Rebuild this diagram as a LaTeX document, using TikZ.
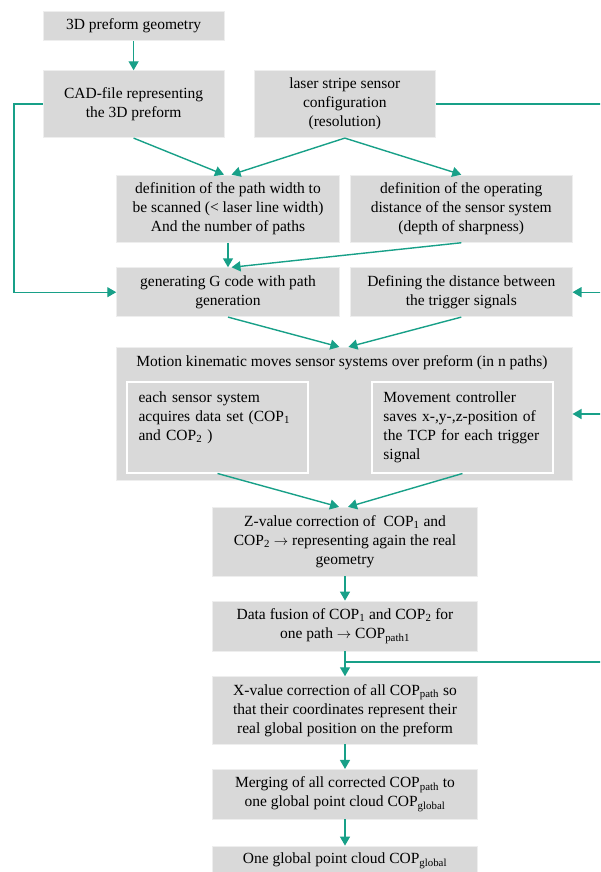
\documentclass[tikz,border=0pt]{standalone}
\usepackage{fontspec}
\setmainfont{Liberation Serif}
\usepackage{tikz}
\usetikzlibrary{arrows.meta}
\definecolor{flowgreen}{RGB}{24,160,136}
\definecolor{boxgray}{RGB}{217,217,217}

\begin{document}
\begin{tikzpicture}[x=1pt,y=-1pt,
    box/.style={fill=boxgray,draw=white!55!boxgray,line width=0.8pt,align=center,inner sep=2pt,font=\fontsize{15.5}{19}\selectfont},
    inbox/.style={fill=boxgray,draw=white,line width=1.5pt,inner xsep=11.5pt,inner ysep=8pt,text width=158pt,align=left,anchor=north west,font=\fontsize{15.5}{19}\selectfont},
    link/.style={draw=flowgreen,line width=1.4pt},
    arr/.style={link,-{Triangle[length=9pt,width=10pt]}}]
    \useasboundingbox (0,0) rectangle (600,872);
    \clip (0,0) rectangle (600,872);

    % input side
    \node[box,minimum width=180.7pt,minimum height=29.7pt] (geom) at (133.6,25.8) {3D preform geometry};
    \node[box,minimum width=180.7pt,minimum height=67pt] (cad) at (133.6,104.2) {CAD-file representing\\the 3D preform};
    \node[box,minimum width=180.6pt,minimum height=67pt] (laser) at (344.8,104.2) {laser stripe sensor\\configuration\\(resolution)};
    \node[box,minimum width=222.7pt,minimum height=67.3pt] (pathwidth) at (228,208.7) {definition of the path width to\\be scanned (< laser line width)\\And the number of paths};
    \node[box,minimum width=221.6pt,minimum height=67.3pt] (opdist) at (461.3,208.7) {definition of the operating\\distance of the sensor system\\(depth of sharpness)};
    \node[box,minimum width=222.7pt,minimum height=49pt] (gcode) at (228,292.2) {generating G code with path\\generation};
    \node[box,minimum width=221.6pt,minimum height=49pt] (trigger) at (461.3,292.2) {Defining the distance between\\the trigger signals};

    % scanning
    \node[box,minimum width=455.4pt,minimum height=133.3pt] (motion) at (344.4,414) {};
    \node[font=\fontsize{15.5}{19}\selectfont,inner sep=0pt] (motiontitle) at (342,363) {Motion kinematic moves sensor systems over preform (in n paths)};
    \node[inbox,text height=13pt,text depth=62pt] (acquire) at (126.3,381) {each sensor system\\acquires data set (COP\textsubscript{1}\\and COP\textsubscript{2} )};
    \node[inbox,text height=13pt,text depth=62pt] (controller) at (371.2,381) {Movement controller\\saves x-,y-,z-position of\\the TCP for each trigger\\signal};

    % processing
    \node[box,minimum width=265.2pt,minimum height=68.7pt] (zvalue) at (345,541.7) {Z-value correction of~ COP\textsubscript{1} and\\COP\textsubscript{2} $\rightarrow$ representing again the real\\geometry};
    \node[box,minimum width=265.2pt,minimum height=50pt] (fusion) at (345,626) {Data fusion of COP\textsubscript{1} and COP\textsubscript{2} for\\one path $\rightarrow$ COP\textsubscript{path1}};
    \node[box,minimum width=265.2pt,minimum height=67.3pt] (xvalue) at (345,710.3) {X-value correction of all COP\textsubscript{path} so\\that their coordinates represent their\\real global position on the preform};
    \node[box,minimum width=265.2pt,minimum height=49.7pt] (merge) at (345,794.2) {Merging of all corrected COP\textsubscript{path} to\\one global point cloud COP\textsubscript{global}};
    \node[box,minimum width=265.2pt,minimum height=30pt] (cloud) at (345,861) {One global point cloud COP\textsubscript{global}};

    \draw[arr] (geom) -- (cad);
    \draw[arr] (cad.south) -- ([xshift=-4pt]pathwidth.north);
    \draw[arr] (laser.south) -- ([xshift=3.5pt]pathwidth.north);
    \draw[arr] (laser.south) -- (opdist.north);
    \draw[arr] (pathwidth) -- (gcode);
    \draw[arr] (opdist.south) -- ([xshift=3.5pt]gcode.north);
    \draw[arr] (gcode.south) -- ([xshift=-5pt]motion.north);
    \draw[arr] (trigger.south) -- ([xshift=4pt]motion.north);
    \draw[arr] (acquire.south) -- ([xshift=-6pt]zvalue.north);
    \draw[arr] (controller.south) -- ([xshift=3pt]zvalue.north);
    \draw[arr] (zvalue) -- (fusion);
    \draw[arr] (fusion) -- (xvalue);
    \draw[arr] (xvalue) -- (merge);
    \draw[arr] (merge) -- (cloud);

    % feedback lines
    \coordinate (leftrail) at (14,104.2);
    \draw[arr] (cad.west) -- (leftrail) |- (gcode.west);
    \coordinate (railtop) at (603,104.2);
    \coordinate (railbot) at (603,662);
    \draw[link] (laser.east) -- (railtop) -- (railbot) -- (railbot -| fusion.south);
    \draw[arr] (railtop |- trigger.east) -- (trigger.east);
    \draw[arr] (railtop |- motion.east) -- (motion.east);
\end{tikzpicture}
\end{document}
